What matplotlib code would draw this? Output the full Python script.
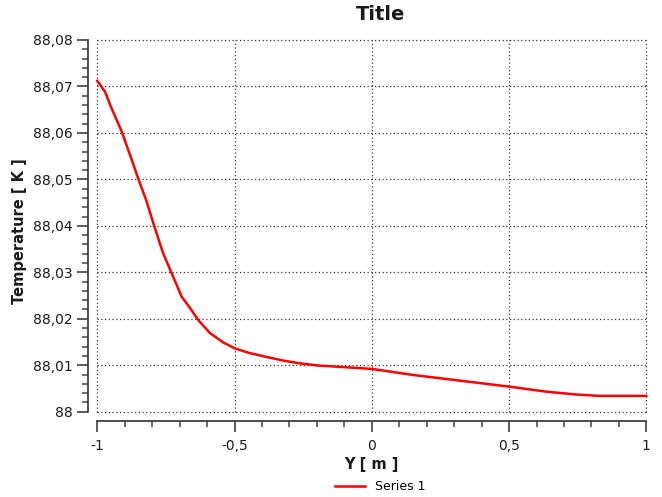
import matplotlib
matplotlib.use('Agg')
import matplotlib.pyplot as plt
from matplotlib.ticker import MultipleLocator, AutoMinorLocator, FuncFormatter

# Series 1
y_pos = [-1.0, -0.972, -0.948, -0.911, -0.881, -0.851, -0.820, -0.796, -0.772,
         -0.760, -0.729, -0.693, -0.662, -0.632, -0.589, -0.541, -0.498, -0.444,
         -0.377, -0.322, -0.262, -0.189, -0.155, 0.002, 0.151, 0.333, 0.5, 0.637,
         0.746, 0.831, 1.0]
temp = [88.0712, 88.0689, 88.0653, 88.0603, 88.0553, 88.0502, 88.0452, 88.0406,
        88.0362, 88.0341, 88.0298, 88.0248, 88.0223, 88.0197, 88.0169, 88.0149,
        88.0136, 88.0126, 88.0117, 88.0110, 88.0104, 88.0099, 88.0098, 88.0092,
        88.0079, 88.0066, 88.0054, 88.0043, 88.0037, 88.0034, 88.0034]


def comma_fmt(v, pos):
    s = '%g' % round(v, 4)
    return s.replace('.', ',')


fig = plt.figure(figsize=(6.62, 4.97), dpi=100)
ax = fig.add_axes([97.3 / 662, 1 - 411.7 / 497, 549 / 662, 371.7 / 497])

ax.plot(y_pos, temp, color='#ff0000', linewidth=1.8, label='Series 1', clip_on=False)
ax.set_xlim(-1, 1)
ax.set_ylim(88.0, 88.08)

ax.xaxis.set_major_locator(MultipleLocator(0.5))
ax.xaxis.set_minor_locator(AutoMinorLocator(5))
ax.yaxis.set_major_locator(MultipleLocator(0.01))
ax.yaxis.set_minor_locator(AutoMinorLocator(5))
ax.xaxis.set_major_formatter(FuncFormatter(comma_fmt))
ax.yaxis.set_major_formatter(FuncFormatter(comma_fmt))

for side in ['top', 'right']:
    ax.spines[side].set_visible(False)
for side in ['left', 'bottom']:
    ax.spines[side].set_position(('outward', 6.7))
    ax.spines[side].set_color('#404040')
    ax.spines[side].set_linewidth(1.3)

ax.tick_params(which='major', length=8, width=1.2, color='#404040',
               labelsize=10, labelcolor='#1a1a1a')
ax.tick_params(which='minor', length=4.5, width=1.1, color='#404040')
ax.tick_params(axis='x', pad=5)
ax.tick_params(axis='y', pad=3)

ax.grid(True, which='major', linestyle=(0, (1, 2)), color='#333333', linewidth=0.9)
for line in ax.get_xgridlines() + ax.get_ygridlines():
    line.set_clip_on(False)

fig.text(381 / 662, 1 - 15 / 497, 'Title', ha='center', va='center',
         fontsize=14, fontweight='bold', color='#1a1a1a')
fig.text(371.5 / 662, 1 - 465 / 497, 'Y [ m ]', ha='center', va='center',
         fontsize=10.5, fontweight='bold', color='#1a1a1a')
fig.text(20 / 662, 1 - 231 / 497, 'Temperature [ K ]', ha='center', va='center',
         rotation=90, fontsize=10.5, fontweight='bold', color='#1a1a1a')

fig.legend(loc='center', bbox_to_anchor=(380 / 662, 1 - 487 / 497), frameon=False,
           fontsize=9, handlelength=2.4, handletextpad=0.8)

fig.savefig('out.png', dpi=100)
